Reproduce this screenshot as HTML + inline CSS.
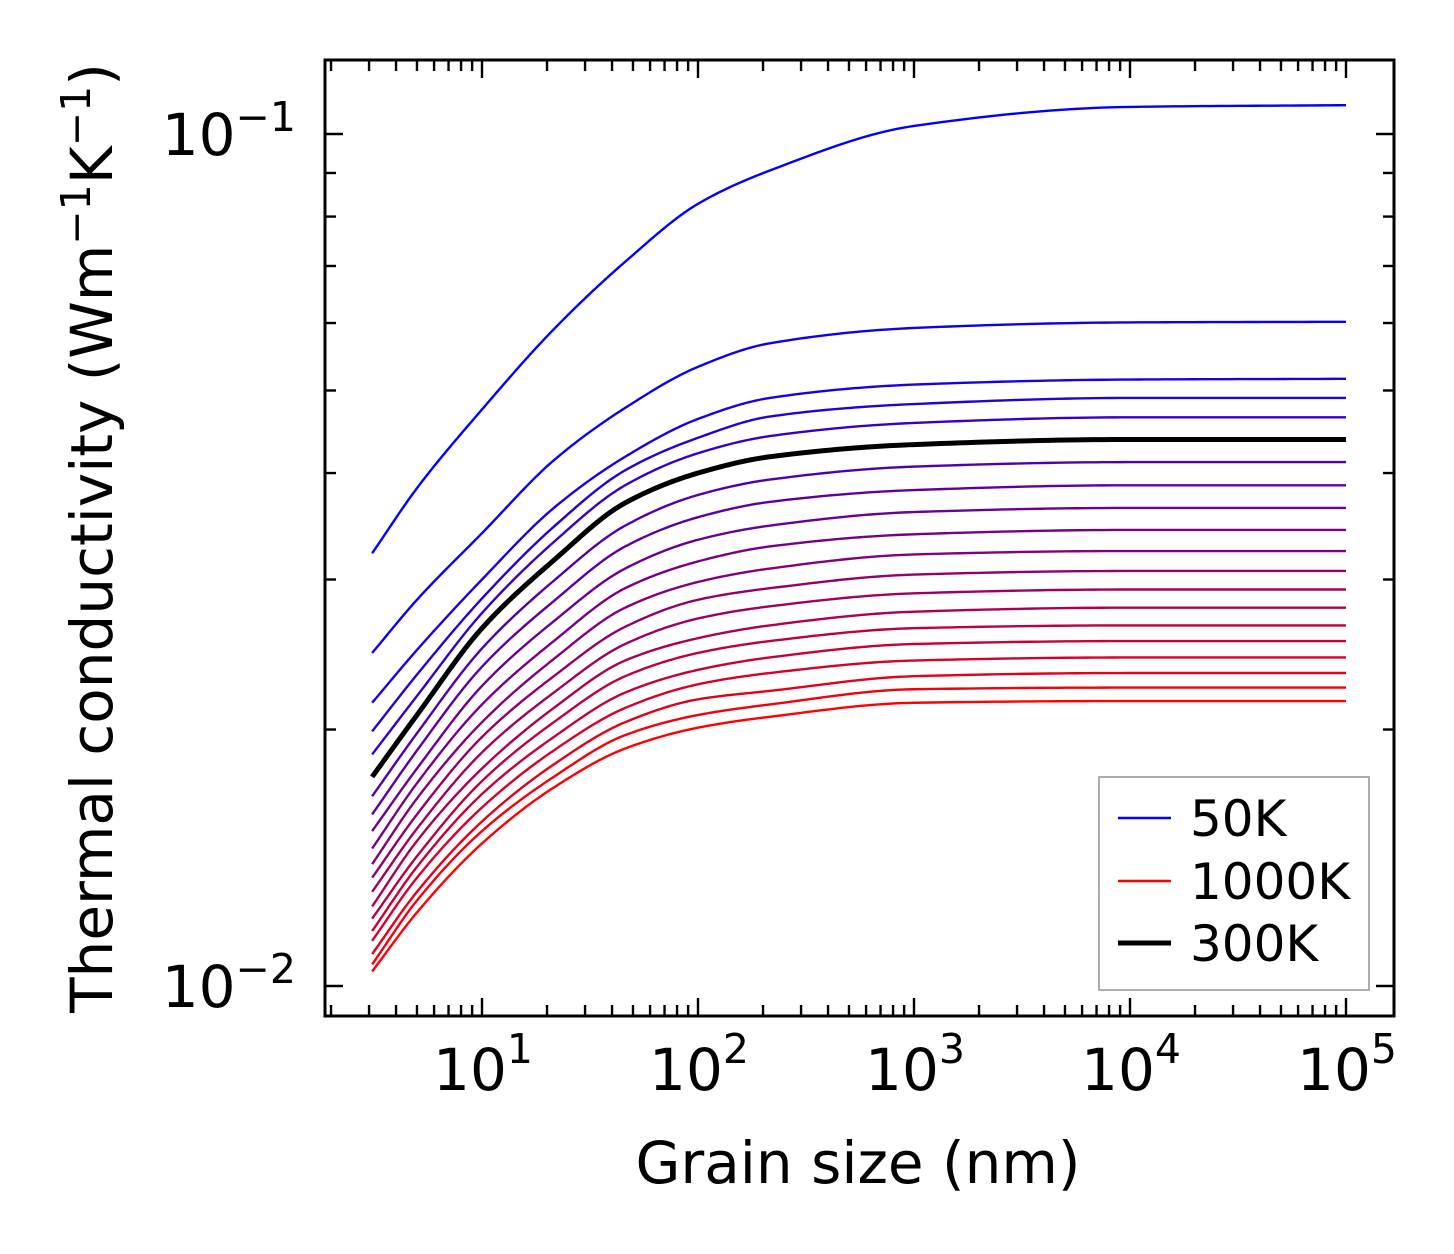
<!DOCTYPE html>
<html><head><meta charset="utf-8">
<style>
html,body{margin:0;padding:0;background:#fff;}
svg{display:block;font-family:"DejaVu Sans","Liberation Sans",sans-serif;}
</style></head>
<body>
<svg id="chart" width="1454" height="1254" viewBox="0 0 1454 1254" xmlns="http://www.w3.org/2000/svg">
<rect x="0" y="0" width="1454" height="1254" fill="#fff"/>
<g id="curves"></g>
<g id="axes"></g>
<text x="858" y="1183" font-size="58" text-anchor="middle">Grain size (nm)</text>
<text transform="translate(112,538) rotate(-90)" font-size="58" text-anchor="middle">Thermal conductivity (Wm<tspan font-size="41" dy="-22">−1</tspan><tspan dy="22">K</tspan><tspan font-size="41" dy="-22">−1</tspan><tspan dy="22">)</tspan></text>
<g id="legend">
<rect x="1099" y="777" width="270" height="213" fill="#fff" stroke="#999" stroke-width="1.6"/>
<line x1="1118" y1="818" x2="1171" y2="818" stroke="#0000ff" stroke-width="2.4"/>
<text x="1190" y="836" font-size="50">50K</text>
<line x1="1118" y1="881" x2="1171" y2="881" stroke="#ff0000" stroke-width="2.4"/>
<text x="1190" y="899" font-size="50">1000K</text>
<line x1="1118" y1="943" x2="1171" y2="943" stroke="#000" stroke-width="5"/>
<text x="1190" y="961" font-size="50">300K</text>
</g>
</svg>
<script>
const grainSizes = [3.1, 5, 10, 21.5, 46, 100, 215, 1000, 10000, 100000];
const temperatures = [50,100,150,200,250,300,350,400,450,500,550,600,650,700,750,800,850,900,950,1000];
const k50  = [0.0322,0.0384,0.0475,0.0590,0.0708,0.0828,0.0906,0.1022,0.1076,0.1081];
const k100 = [0.0246,0.0284,0.0340,0.0414,0.0477,0.0533,0.0568,0.0592,0.0601,0.0602];
const k150 = [0.0215,0.0248,0.0300,0.0364,0.0418,0.0463,0.0490,0.0508,0.0515,0.0516];
const k200 = [0.0199,0.0232,0.0285,0.0346,0.0403,0.0440,0.0466,0.0482,0.0490,0.0490];
const k250 = [0.0187,0.0219,0.0274,0.0332,0.0387,0.0422,0.0442,0.0458,0.0465,0.0465];
const k300 = [0.0176,0.0208,0.0263,0.0316,0.0369,0.0400,0.0418,0.0432,0.0438,0.0438];
const k350 = [0.0167,0.0198,0.0249,0.0299,0.0347,0.0377,0.0393,0.0407,0.0412,0.0412];
const k400 = [0.0159,0.0189,0.0237,0.0283,0.0328,0.0355,0.0370,0.0382,0.0387,0.0387];
const k450 = [0.0152,0.0180,0.0225,0.0268,0.0309,0.0334,0.0347,0.0360,0.0364,0.0364];
const k500 = [0.0145,0.0173,0.0214,0.0254,0.0293,0.0315,0.0328,0.0339,0.0343,0.0343];
const k550 = [0.0139,0.0166,0.0204,0.0242,0.0278,0.0298,0.0309,0.0321,0.0324,0.0324];
const k600 = [0.0134,0.0159,0.0196,0.0231,0.0264,0.0284,0.0293,0.0304,0.0307,0.0307];
const k650 = [0.0129,0.0153,0.0188,0.0221,0.0252,0.0270,0.0279,0.0289,0.0292,0.0292];
const k700 = [0.0124,0.0148,0.0180,0.0212,0.0241,0.0256,0.0265,0.0275,0.0278,0.0278];
const k750 = [0.0120,0.0142,0.0174,0.0204,0.0231,0.0246,0.0254,0.0263,0.0265,0.0265];
const k800 = [0.0116,0.0138,0.0168,0.0196,0.0221,0.0235,0.0243,0.0252,0.0254,0.0254];
const k850 = [0.0113,0.0134,0.0162,0.0189,0.0212,0.0226,0.0233,0.0241,0.0243,0.0243];
const k900 = [0.0109,0.0129,0.0156,0.0182,0.0204,0.0217,0.0222,0.0231,0.0233,0.0233];
const k950 = [0.0106,0.0126,0.0152,0.0176,0.0197,0.0208,0.0214,0.0223,0.0224,0.0224];
const k1000= [0.0104,0.0122,0.0147,0.0171,0.0190,0.0201,0.0207,0.0215,0.0216,0.0216];
const seriesList = [k50,k100,k150,k200,k250,k300,k350,k400,k450,k500,k550,k600,k650,k700,k750,k800,k850,k900,k950,k1000];
const highlightT = 300;
const xTickExps = [1,2,3,4,5];
const yTickExps = [-1,-2];
const xTickLabels = ['1','2','3','4','5'];
const yTickLabels = ['−1','−2'];

const NS='http://www.w3.org/2000/svg';
const PL=325, PR=1394, PT=60, PB=1016;
const xLogMin=0.268, xLogMax=5.218;
function xs(v){ return 482 + (Math.log10(v)-1)*216; }
function ys(v){ return 134 + (-1-Math.log10(v))*852; }
function mk(tag, attrs, parent){ const e=document.createElementNS(NS,tag); for(const k in attrs) e.setAttribute(k,attrs[k]); parent.appendChild(e); return e; }

// monotone cubic (Fritsch-Carlson) interpolation in log-log space
function curvePath(xv, yv){
  const X=xv.map(Math.log10), Y=yv.map(Math.log10), n=X.length;
  const d=[], m=new Array(n);
  for(let i=0;i<n-1;i++) d.push((Y[i+1]-Y[i])/(X[i+1]-X[i]));
  m[0]=d[0]; m[n-1]=d[n-2];
  for(let i=1;i<n-1;i++){ if(d[i-1]*d[i]<=0) m[i]=0; else { const w1=2*(X[i+1]-X[i])+(X[i]-X[i-1]), w2=(X[i+1]-X[i])+2*(X[i]-X[i-1]); m[i]=(w1+w2)/(w1/d[i-1]+w2/d[i]); } }
  let p='';
  for(let i=0;i<n-1;i++){
    const h=X[i+1]-X[i];
    for(let s=0;s<=24;s++){
      if(i>0 && s===0) continue;
      const t=s/24, t2=t*t, t3=t2*t;
      const yy=(2*t3-3*t2+1)*Y[i]+(t3-2*t2+t)*h*m[i]+(-2*t3+3*t2)*Y[i+1]+(t3-t2)*h*m[i+1];
      const xx=X[i]+t*h;
      const px=xs(Math.pow(10,xx)), py=ys(Math.pow(10,yy));
      p+=(p?'L':'M')+px.toFixed(2)+','+py.toFixed(2);
    }
  }
  return p;
}

const cg=document.getElementById('curves');
const nT=temperatures.length;
seriesList.forEach((s,i)=>{
  const f=i/(nT-1);
  const col='rgb('+Math.round(255*f)+',0,'+Math.round(255*(1-f))+')';
  const el=mk('path',{d:curvePath(grainSizes,s),fill:'none',stroke:col,'stroke-width':2.4,'stroke-linejoin':'round'},cg);
  
  
});
const hi=temperatures.indexOf(highlightT);
const hl=mk('path',{d:curvePath(grainSizes,seriesList[hi]),fill:'none',stroke:'#000','stroke-width':5,'stroke-linejoin':'round'},cg);



const ag=document.getElementById('axes');
const frame=mk('rect',{x:PL,y:PT,width:PR-PL,height:PB-PT,fill:'none',stroke:'#000','stroke-width':3},ag);


function tickLine(x1,y1,x2,y2,name){ const t=mk('line',{x1,y1,x2,y2,stroke:'#000','stroke-width':2.4},ag);   }
for(let e=0;e<=5;e++){
  for(let k=1;k<=9;k++){
    const v=k*Math.pow(10,e), lv=Math.log10(v);
    if(lv<xLogMin||lv>xLogMax) continue;
    const X=xs(v), len=(k===1)?18:11;
    tickLine(X,PB,X,PB-len,'x-tick');
    tickLine(X,PT,X,PT+len,'x-tick-top');
  }
}
xTickExps.forEach((e,i)=>{
  const X=xs(Math.pow(10,e));
  const t=mk('text',{x:X+1,y:1090,'font-size':58,'text-anchor':'middle'},ag);
  
  
  t.appendChild(document.createTextNode('10'));
  const sp=mk('tspan',{'font-size':41,dy:-27},t); sp.textContent=xTickLabels[i];
});
for(let e=-3;e<=-1;e++){
  for(let k=1;k<=9;k++){
    const v=k*Math.pow(10,e), Y=ys(v);
    if(Y<PT||Y>PB) continue;
    const len=(k===1)?18:11;
    tickLine(PL,Y,PL+len,Y,'y-tick');
    tickLine(PR,Y,PR-len,Y,'y-tick-right');
  }
}
yTickExps.forEach((e,i)=>{
  const Y=ys(Math.pow(10,e));
  const t=mk('text',{x:296,y:Y+21,'font-size':58,'text-anchor':'end'},ag);
  
  
  t.appendChild(document.createTextNode('10'));
  const sp=mk('tspan',{'font-size':41,dy:-24},t); sp.textContent=yTickLabels[i];
});
</script>
</body></html>
